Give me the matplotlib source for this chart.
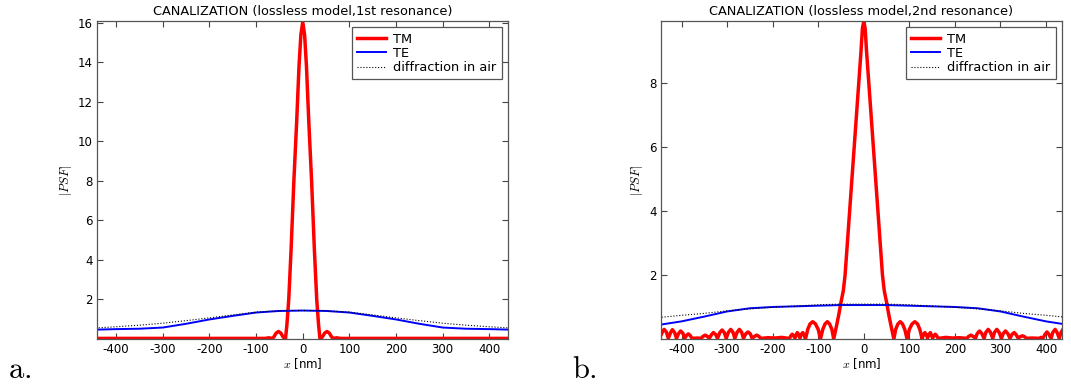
import numpy as np
import matplotlib.pyplot as plt

plt.rcParams['mathtext.fontset'] = 'cm'
plt.rcParams['axes.unicode_minus'] = False

# ---- 1st resonance ----
x_tm1 = [-450, -120, -90, -80, -76, -73, -70, -66, -62, -57, -52, -47, -42, -37,
         -34, -30, -25, -19, -13, -8, -4, 0, 4, 8, 13, 19, 25, 30, 34,
         37, 42, 47, 52, 57, 62, 66, 70, 73, 76, 80, 90, 120, 450]
tm1 = [0.03, 0.03, 0.03, 0.03, 0.05, 0.06, 0.05, 0.03, 0.1, 0.3, 0.38, 0.3, 0.1, 0.0,
       0.7, 2.0, 4.5, 8.0, 11.0, 13.8, 15.4, 16.05, 15.4, 13.8, 11.0, 8.0, 4.5, 2.0, 0.7,
       0.0, 0.1, 0.3, 0.38, 0.3, 0.1, 0.03, 0.05, 0.06, 0.05, 0.03, 0.03, 0.03, 0.03]

x_te1 = [-450, -400, -350, -300, -250, -200, -150, -100, -50, 0,
         50, 100, 150, 200, 250, 300, 350, 400, 450]
te1 = [0.47, 0.50, 0.52, 0.58, 0.77, 0.99, 1.17, 1.34, 1.42, 1.44,
       1.42, 1.34, 1.17, 0.99, 0.77, 0.58, 0.52, 0.50, 0.47]
air1 = [0.55, 0.62, 0.70, 0.80, 0.93, 1.07, 1.22, 1.36, 1.43, 1.45,
        1.43, 1.36, 1.22, 1.07, 0.93, 0.80, 0.70, 0.62, 0.55]

# ---- 2nd resonance ----
x_tm2 = [-450, -445, -442, -438, -433, -429, -424, -420, -415, -411, -406, -402, -397, -393,
         -389, -385, -381, -377, -365, -357,
         -353, -348, -343, -339, -334, -330, -325, -321, -316, -311, -306, -302,
         -297, -292, -287, -283, -278, -273, -268, -264, -259, -254, -249, -245,
         -240, -235, -230, -226, -210, -195, -180, -170, -163,
         -160, -157, -154, -151, -148, -146, -143, -140, -137, -134, -131, -128,
         -123, -118, -112, -106, -100, -95, -90, -85, -80, -75, -70, -66,
         -60, -55, -50, -45, -41, -36, -31, -26, -21, -16, -11, -6, -3, 0,
         3, 6, 11, 16, 21, 26, 31, 36, 41, 45, 50, 55, 60,
         66, 70, 75, 80, 85, 90, 95, 100, 106, 112, 118, 123,
         128, 131, 134, 137, 140, 143, 146, 148, 151, 154, 157, 160, 163,
         170, 180, 195, 210, 226,
         230, 235, 240, 245, 249, 254, 259, 264, 268, 273, 278, 283,
         287, 292, 297, 302, 306, 311, 316, 321, 325, 330, 334, 339,
         343, 348, 353, 357, 370, 385,
         389, 393, 398, 402, 406, 411, 415, 420, 424, 429, 433, 437, 442, 447]
tm2 = [0.05, 0.12, 0.22, 0.30, 0.21, 0.02, 0.20, 0.29, 0.20, 0.02, 0.18, 0.25, 0.18, 0.02,
       0.11, 0.16, 0.11, 0.02, 0.03, 0.02,
       0.08, 0.12, 0.08, 0.02, 0.14, 0.20, 0.14, 0.02, 0.20, 0.28, 0.20, 0.02,
       0.21, 0.30, 0.21, 0.02, 0.21, 0.30, 0.21, 0.02, 0.16, 0.22, 0.16, 0.02,
       0.08, 0.12, 0.08, 0.02, 0.04, 0.03, 0.05, 0.03, 0.02,
       0.10, 0.15, 0.10, 0.03, 0.14, 0.20, 0.14, 0.03, 0.14, 0.20, 0.14, 0.0,
       0.30, 0.47, 0.54, 0.47, 0.30, 0.0, 0.30, 0.47, 0.54, 0.47, 0.30, 0.0,
       0.40, 0.75, 1.15, 1.50, 2.0, 3.0, 4.0, 5.0, 6.0, 7.0, 8.0, 9.0, 9.7, 9.92,
       9.7, 9.0, 8.0, 7.0, 6.0, 5.0, 4.0, 3.0, 2.0, 1.50, 1.15, 0.75, 0.40,
       0.0, 0.30, 0.47, 0.54, 0.47, 0.30, 0.0, 0.30, 0.47, 0.54, 0.47, 0.30,
       0.0, 0.14, 0.20, 0.14, 0.03, 0.14, 0.20, 0.14, 0.03, 0.10, 0.15, 0.10, 0.02,
       0.03, 0.05, 0.03, 0.04, 0.02,
       0.08, 0.12, 0.08, 0.02, 0.17, 0.25, 0.17, 0.02, 0.21, 0.30, 0.21, 0.02,
       0.21, 0.30, 0.21, 0.02, 0.17, 0.25, 0.17, 0.02, 0.14, 0.20, 0.14, 0.02,
       0.07, 0.10, 0.07, 0.02, 0.03, 0.02,
       0.05, 0.02, 0.15, 0.22, 0.15, 0.02, 0.21, 0.30, 0.21, 0.02, 0.21, 0.30, 0.21, 0.02]

x_te2 = [-450, -400, -350, -300, -250, -200, -150, -100, -50, 0,
         50, 100, 150, 200, 250, 300, 350, 400, 450]
te2 = [0.44, 0.55, 0.70, 0.86, 0.96, 1.00, 1.02, 1.04, 1.06, 1.06,
       1.06, 1.04, 1.02, 1.00, 0.96, 0.86, 0.70, 0.55, 0.44]
air2 = [0.67, 0.74, 0.80, 0.88, 0.94, 0.99, 1.03, 1.07, 1.09, 1.09,
        1.09, 1.07, 1.03, 0.99, 0.94, 0.88, 0.80, 0.74, 0.67]

panels = [
    ('CANALIZATION (lossless model,1st resonance)', x_tm1, tm1, x_te1, te1, air1,
     (-441, 440), 16.1, np.arange(2, 17, 2), [97, 21, 411, 318], 'a.', 8),
    ('CANALIZATION (lossless model,2nd resonance)', x_tm2, tm2, x_te2, te2, air2,
     (-445, 435), 9.93, np.arange(2, 9, 2), [661, 21, 401, 318], 'b.', 572),
]

W, H = 1071, 387
fig = plt.figure(figsize=(W / 100, H / 100), dpi=100)

for title, xtm, tm, xte, te, air, xl, ytop, yt, box, tag, tagx in panels:
    l, t, w, h = box
    ax = fig.add_axes([l / W, 1 - (t + h) / H, w / W, h / H])
    ax.plot(xtm, tm, color='red', lw=2.5, label='TM')
    ax.plot(xte, te, color='blue', lw=1.4, label='TE')
    ax.plot(xte, air, color='black', lw=0.8, ls=':', label='diffraction in air')
    ax.set_xlim(*xl)
    ax.set_ylim(0, ytop)
    ax.set_xticks(np.arange(-400, 401, 100))
    ax.set_yticks(yt)
    ax.tick_params(direction='in', top=True, right=True, length=4, width=0.8,
                   labelsize=8.5, pad=3, color='#444444')
    for s in ax.spines.values():
        s.set_color('#555555')
        s.set_linewidth(0.9)
    ax.set_title(title, fontsize=9.3, pad=4)
    ax.set_xlabel(r'$x$ [nm]', fontsize=8.5, labelpad=0)
    ax.set_ylabel(r'$|PSF|$', fontsize=9, labelpad=3)
    leg = ax.legend(loc='upper right', fontsize=9.3, fancybox=False, framealpha=1,
                    edgecolor='#555555', borderaxespad=0.5, handlelength=2.2,
                    handletextpad=0.6, labelspacing=0.1, borderpad=0.4)
    leg.get_frame().set_linewidth(0.9)
    fig.text(tagx / W, 1 - 378 / H, r'$\mathrm{' + tag + '}$', fontsize=22)

fig.savefig('out.png', dpi=100)
